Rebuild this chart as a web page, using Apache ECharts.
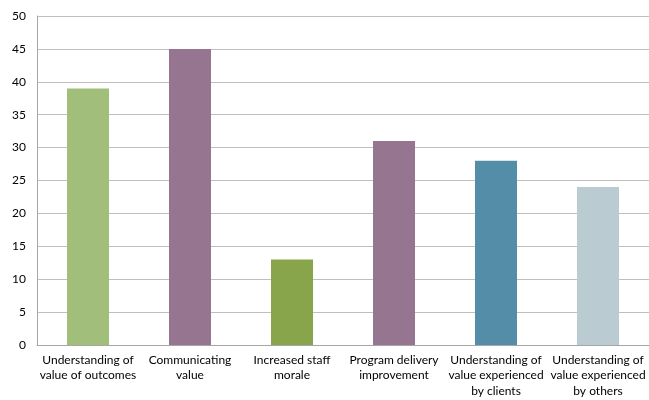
<!DOCTYPE html>
<html><head><meta charset="utf-8">
<script src="https://cdn.jsdelivr.net/npm/echarts@6/dist/echarts.min.js"></script>
<style>html,body{margin:0;padding:0;background:#fff}#c{width:649px;height:400px}</style>
</head><body><div id="c"></div>
<script>
const categories = ["Understanding of\nvalue of outcomes","Communicating\nvalue","Increased staff\nmorale","Program delivery\nimprovement","Understanding of\nvalue experienced\nby clients","Understanding of\nvalue experienced\nby others"];
const values = [39, 45, 13, 31, 28, 24];
const yTicks = [0,5,10,15,20,25,30,35,40,45,50];
const barColors = ["#A1BE7A","#967590","#88A54B","#967590","#538DA8","#BACBD1"];
const chart = echarts.init(document.getElementById('c'));
chart.setOption({
  animation:false,
  grid:{left:37,right:0,top:16,bottom:55},
  xAxis:{type:'category',data:categories,
    axisLine:{lineStyle:{color:'#a6a6a6'}},axisTick:{show:false},
    axisLabel:{interval:0,color:'#000',fontFamily:'Lato, "Open Sans", sans-serif',fontSize:12,lineHeight:15.5,margin:7}},
  yAxis:{type:'value',min:yTicks[0],max:yTicks[yTicks.length-1],interval:5,
    axisLine:{show:true,lineStyle:{color:'#a6a6a6'}},axisTick:{show:false},
    splitLine:{lineStyle:{color:'#bfbfbf',width:1}},
    axisLabel:{color:'#000',fontFamily:'Lato, "Open Sans", sans-serif',fontSize:12,margin:11}},
  series:[{type:'bar',data:values,barWidth:42,
    itemStyle:{color:p=>barColors[p.dataIndex]}}]
});
</script></body></html>
